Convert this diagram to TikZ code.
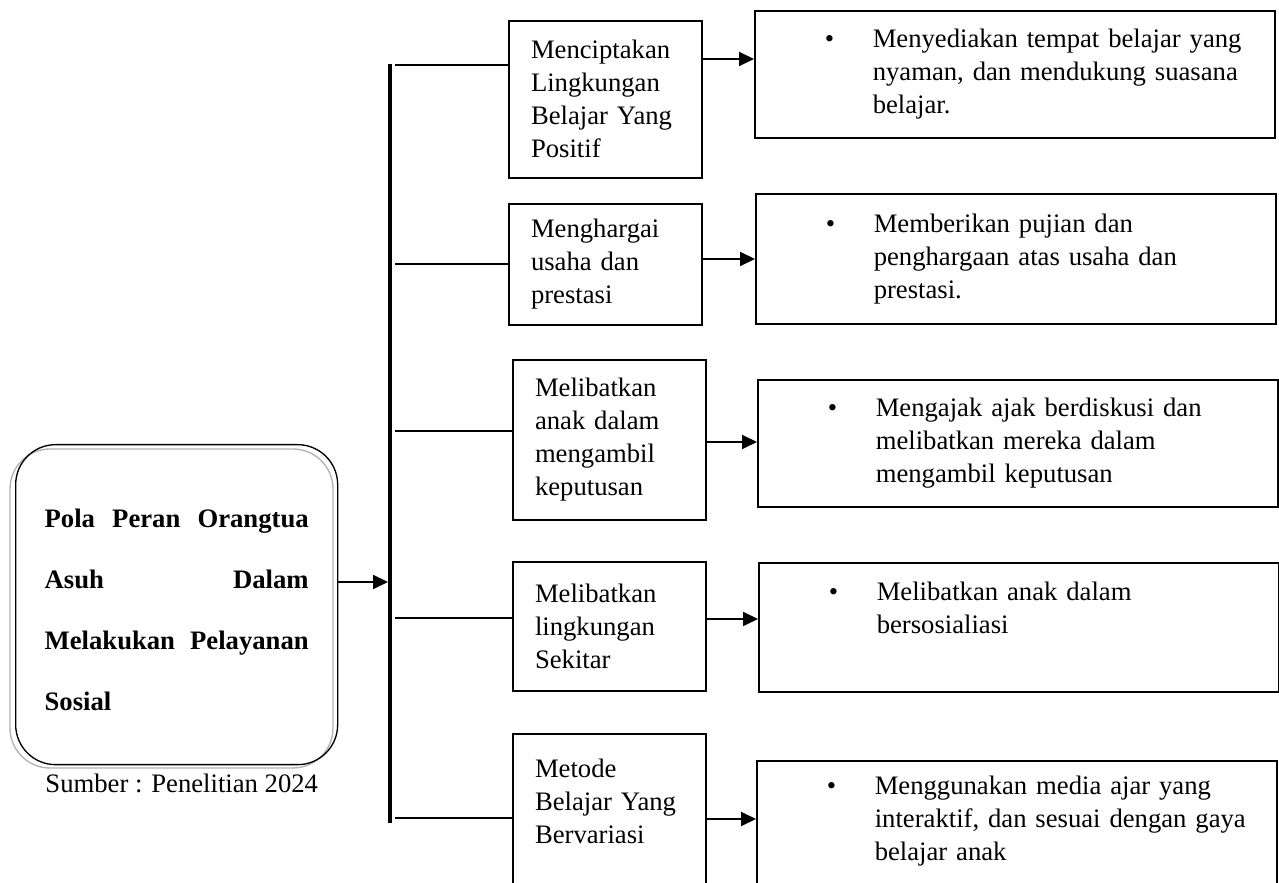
\documentclass[tikz,border=0pt]{standalone}
\usepackage{fontspec}
\setmainfont{Liberation Serif}
\usetikzlibrary{calc,arrows.meta}
\setlength{\parindent}{0pt}

\newcommand{\butir}[1]{\noindent\hspace*{31.5pt}\makebox[21.6pt][l]{\textbullet}%
	\begin{tabular}[t]{@{}l@{}}#1\end{tabular}}

\begin{document}
\begin{tikzpicture}[x=0.45pt,y=-0.45pt]
		\tikzstyle{induk}=[draw,rounded corners=18pt,line width=0.6pt,anchor=north west,
							minimum width=144.9pt,minimum height=144pt,inner xsep=13.05pt,
							text width=118.8pt,align=left,
							font=\fontsize{12}{27.45}\selectfont\bfseries]
		\tikzstyle{aspek}=[draw,line width=0.7pt,anchor=north west,minimum width=86.85pt,
							inner xsep=10pt,inner ysep=0pt,text width=66.85pt,align=left,
							font=\fontsize{12}{14.85}\selectfont]
		\tikzstyle{wujud}=[draw,line width=0.7pt,anchor=north west,minimum width=234pt,
							inner xsep=0pt,inner ysep=0pt,text width=234pt,align=left,
							font=\fontsize{12}{14.85}\selectfont]
		\tikzstyle{cabang}=[line width=0.5pt]
		\tikzstyle{panah}=[line width=0.9pt,-{Triangle[length=6.75pt,width=6.3pt]}]

		\path[use as bounding box,clip] (0,0) rectangle (1279,883);

		% induk
		\draw[gray!60,line width=0.6pt,rounded corners=18pt] (10,449) rectangle (333,768);
		\node[induk] (pola) at (15,444) {\rule{0pt}{13pt}Pola\hfill Peran\hfill Orangtua\\
			Asuh\hfill Dalam\\ Melakukan\hfill Pelayanan\\ Sosial};
		\node[anchor=base west,inner sep=0pt,font=\fontsize{12}{14.85}\selectfont] (sumber)
			at (45,793) {Sumber : Penelitian 2024};

		% garis tegak
		\coordinate (atas) at (390,64);
		\coordinate (bawah) at (390,823);
		\coordinate (masuk) at (388,582);
		\draw[line width=1.8pt] (atas) -- (bawah);
		\draw[panah] (pola.east |- masuk) -- (masuk);

		% aspek
		\node[aspek,minimum height=70.65pt] (m1) at (508,20)
			{Menciptakan\\ Lingkungan\\ Belajar Yang\\ Positif};
		\node[aspek,minimum height=54.45pt] (m2) at (508,203)
			{Menghargai\\ usaha dan\\ prestasi};
		\node[aspek,minimum height=72pt] (m3) at (512,359)
			{Melibatkan\\ anak dalam\\ mengambil\\ keputusan};
		\node[aspek,minimum height=58.05pt] (m4) at (512,561)
			{Melibatkan\\ lingkungan\\ Sekitar};
		\node[aspek,minimum height=75.15pt] (m5) at (512,733)
			{Metode\\ Belajar Yang\\ Bervariasi\\ \mbox{}};

		% wujud
		\node[wujud,minimum height=57.15pt] (r1) at (754,10)
			{\butir{Menyediakan tempat belajar yang\\ nyaman, dan mendukung suasana\\ belajar.}};
		\node[wujud,minimum height=58.5pt] (r2) at (755,193)
			{\butir{Memberikan pujian dan\\ penghargaan atas usaha dan\\ prestasi.}};
		\node[wujud,minimum height=57.15pt] (r3) at (757,379)
			{\butir{Mengajak ajak berdiskusi dan\\ melibatkan mereka dalam\\ mengambil keputusan}};
		\node[wujud,minimum height=58.05pt] (r4) at (758,562)
			{\butir{Melibatkan anak dalam\\ bersosialiasi\\ \mbox{}}};
		\node[wujud,minimum height=68.85pt] (r5) at (756,760)
			{\butir{Menggunakan media ajar yang\\ interaktif, dan sesuai dengan gaya\\ belajar anak\\ \mbox{}}};

		% cabang dan panah
		\foreach \i/\yc/\ya in {1/65/59, 2/264/259, 3/431/442, 4/618/619, 5/818/819}{
			\coordinate (c\i) at (395,\yc);
			\draw[cabang] (c\i) -- (c\i -| m\i.west);
			\draw[panah] (m\i.east |- 0,\ya) -- (r\i.west |- 0,\ya);
		}
\end{tikzpicture}
\end{document}
